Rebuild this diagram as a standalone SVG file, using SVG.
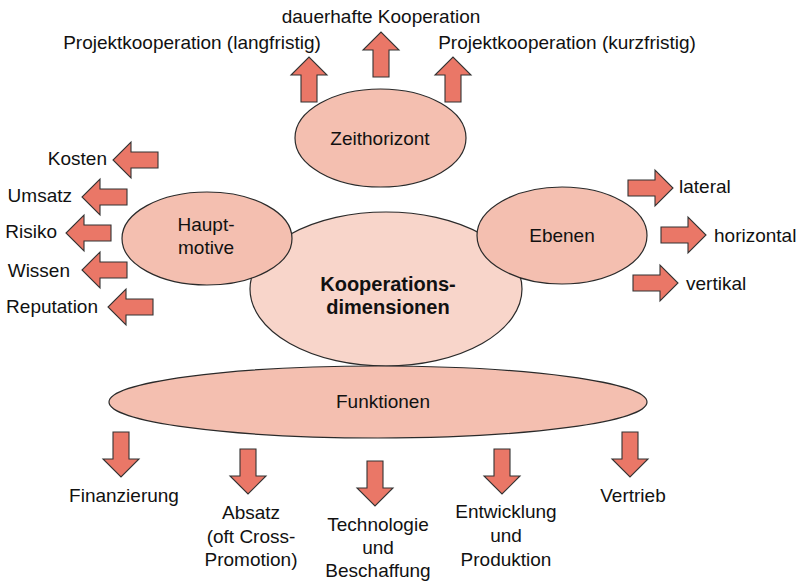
<svg xmlns="http://www.w3.org/2000/svg" xmlns:xlink="http://www.w3.org/1999/xlink" width="805" height="583" viewBox="0 0 805 583">
<style>
.bg{fill:#ffffff}
.ell{fill:#F4BFB0;stroke:#2a2a2a;stroke-width:1.2}
.core{fill:#F8D5CA;stroke:#2a2a2a;stroke-width:1.2}
.arr{fill:#EA7767;stroke:#333333;stroke-width:1.1;stroke-linejoin:miter}
text{font-family:"Liberation Sans",Arial,sans-serif;font-size:19px;fill:#111111}
.c{text-anchor:middle}
.e{text-anchor:end}
.b{font-weight:bold;font-size:20px}
</style>
<defs>
<path id="ar" d="M-45,-8 L-18,-8 L-18,-18 L0,0 L-18,18 L-18,8 L-45,8 Z"/>
</defs>
<rect class="bg" x="0" y="0" width="805" height="583"/>
<g id="connectors">
<use xlink:href="#ar" class="arr" transform="translate(309,57) rotate(-90)"/>
<use xlink:href="#ar" class="arr" transform="translate(381,32) rotate(-90)"/>
<use xlink:href="#ar" class="arr" transform="translate(453,57) rotate(-90)"/>
<use xlink:href="#ar" class="arr" transform="translate(113,160) rotate(180)"/>
<use xlink:href="#ar" class="arr" transform="translate(82,197) rotate(180)"/>
<use xlink:href="#ar" class="arr" transform="translate(66,233) rotate(180)"/>
<use xlink:href="#ar" class="arr" transform="translate(82,270) rotate(180)"/>
<use xlink:href="#ar" class="arr" transform="translate(108,307) rotate(180)"/>
<use xlink:href="#ar" class="arr" transform="translate(673,188)"/>
<use xlink:href="#ar" class="arr" transform="translate(706,235)"/>
<use xlink:href="#ar" class="arr" transform="translate(678,283)"/>
<use xlink:href="#ar" class="arr" transform="translate(121,477) rotate(90)"/>
<use xlink:href="#ar" class="arr" transform="translate(248,494) rotate(90)"/>
<use xlink:href="#ar" class="arr" transform="translate(375,506) rotate(90)"/>
<use xlink:href="#ar" class="arr" transform="translate(502,494) rotate(90)"/>
<use xlink:href="#ar" class="arr" transform="translate(630,477) rotate(90)"/>
</g>
<g id="kooperationsdimensionen">
<ellipse class="core" cx="386" cy="289" rx="136" ry="77"/>
<text class="c b" x="388" y="291">Kooperations-</text>
<text class="c b" x="388" y="314">dimensionen</text>
</g>
<g id="funktionen">
<ellipse class="ell" cx="378" cy="402" rx="269" ry="36"/>
<text class="c" x="383" y="408">Funktionen</text>
</g>
<g id="hauptmotive">
<ellipse class="ell" cx="207" cy="238.5" rx="85" ry="46.5"/>
<text class="c" x="206" y="231">Haupt-</text>
<text class="c" x="206" y="254">motive</text>
</g>
<g id="ebenen">
<ellipse class="ell" cx="562" cy="235.5" rx="85" ry="48.5"/>
<text class="c" x="562" y="242">Ebenen</text>
</g>
<g id="zeithorizont">
<ellipse class="ell" cx="380.5" cy="138" rx="85.5" ry="49"/>
<text class="c" x="380" y="145">Zeithorizont</text>
</g>
<g id="labels-top">
<text class="c" x="381" y="23">dauerhafte Kooperation</text>
<text class="c" x="192" y="49">Projektkooperation (langfristig)</text>
<text class="c" x="567" y="49">Projektkooperation (kurzfristig)</text>
</g>
<g id="labels-left">
<text class="e" x="107" y="165">Kosten</text>
<text class="e" x="72" y="202">Umsatz</text>
<text class="e" x="57" y="238">Risiko</text>
<text class="e" x="70" y="277">Wissen</text>
<text class="e" x="98" y="313">Reputation</text>
</g>
<g id="labels-right">
<text x="679" y="193">lateral</text>
<text x="714" y="242">horizontal</text>
<text x="686" y="290">vertikal</text>
</g>
<g id="labels-bottom">
<text class="c" x="124" y="502">Finanzierung</text>
<text class="c" x="251" y="519">Absatz</text>
<text class="c" x="251" y="543">(oft Cross-</text>
<text class="c" x="251" y="566">Promotion)</text>
<text class="c" x="378" y="531">Technologie</text>
<text class="c" x="378" y="554">und</text>
<text class="c" x="378" y="577">Beschaffung</text>
<text class="c" x="506" y="518">Entwicklung</text>
<text class="c" x="506" y="542">und</text>
<text class="c" x="506" y="566">Produktion</text>
<text class="c" x="633" y="502">Vertrieb</text>
</g>
</svg>
